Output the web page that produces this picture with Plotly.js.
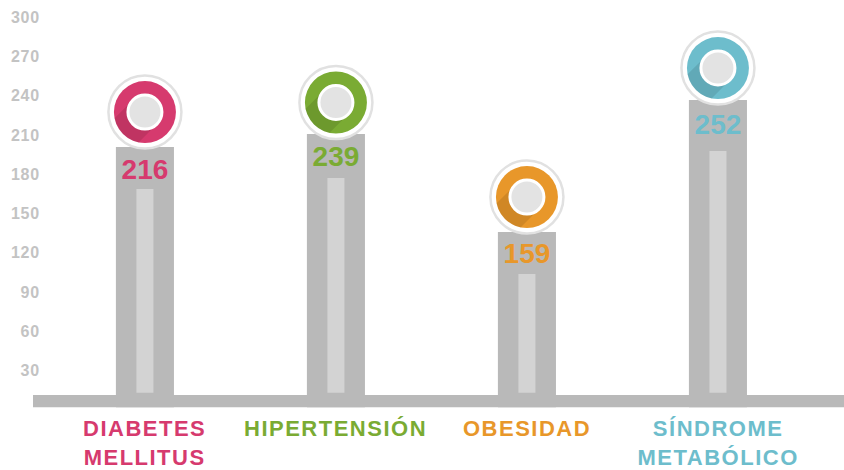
<!DOCTYPE html>
<html>
<head>
<meta charset="utf-8">
<script src="https://cdn.plot.ly/plotly-3.0.1.min.js"></script>
<style>
  html, body { margin: 0; padding: 0; background: #ffffff; }
  #chart { width: 844px; height: 470px; }
  .ytick text { letter-spacing: 0.8px; }
  .annotation text { letter-spacing: 1.5px; }
</style>
</head>
<body>
<div id="chart"></div>
<script>
// ---- data ----
const categories = ['DIABETES<br>MELLITUS', 'HIPERTENSIÓN', 'OBESIDAD', 'SÍNDROME<br>METABÓLICO'];
const values = [216, 239, 159, 252];              // printed numbers
const barLevels = [200.8, 210.7, 135.9, 236.7];   // top of grey columns (axis units)
const innerLevels = [168.7, 177.1, 103.8, 197.8]; // top of light inner strips
const circleLevels = [227.5, 234.8, 162.6, 261.1];// centre of the ring badges
const labelLevels = [182.1, 192.0, 117.6, 216.1]; // centre of the printed numbers
const yTicks = [30, 60, 90, 120, 150, 180, 210, 240, 270, 300];

const colors = ['#d63a6e', '#7aab33', '#e8972a', '#6dbdcc'];
const idx = categories.map((c, i) => i);

const FONT = 'Liberation Sans, Arial, Helvetica, sans-serif';
const innerBase = 13.2;
const baseBand = [2.1, 11.45];

const traces = [
  {
    type: 'bar', x: idx, y: barLevels.map(v => v - baseBand[0]), base: baseBand[0], width: 0.304,
    marker: { color: '#b9b9b9', line: { width: 0 } },
    hoverinfo: 'skip', showlegend: false
  },
  {
    type: 'bar', x: idx, y: innerLevels.map(v => v - innerBase), base: innerBase, width: 0.089,
    marker: { color: '#d3d3d3', line: { width: 0 } },
    hoverinfo: 'skip', showlegend: false
  },
  {
    type: 'scatter', mode: 'text', x: idx, y: labelLevels,
    text: values.map(String), textposition: 'middle center',
    textfont: { family: FONT, size: 28, weight: 'bold', color: colors },
    hoverinfo: 'skip', showlegend: false, cliponaxis: false
  }
];

// ring badges as pixel-sized shapes anchored at data coordinates
const shapes = [
  {
    type: 'rect', xref: 'paper', x0: 0, x1: 1, yref: 'y', y0: baseBand[0], y1: baseBand[1],
    fillcolor: '#b9b9b9', line: { width: 0 }, layer: 'below'
  }
];

function shadowPath(R, r) {
  const s = Math.SQRT1_2;
  const d = [-s, -s];
  const t = Math.sqrt(R * R - r * r);
  const p1 = [r * s, -r * s], p2 = [-r * s, r * s];
  const q1 = [p1[0] + t * d[0], p1[1] + t * d[1]];
  const q2 = [p2[0] + t * d[0], p2[1] + t * d[1]];
  let a1 = Math.atan2(q1[1], q1[0]);
  let a2 = Math.atan2(q2[1], q2[0]);
  if (a2 > a1) a2 -= 2 * Math.PI;
  let path = `M${p1[0].toFixed(2)},${p1[1].toFixed(2)} L${q1[0].toFixed(2)},${q1[1].toFixed(2)}`;
  const n = 24;
  for (let k = 1; k <= n; k++) {
    const a = a1 + (a2 - a1) * k / n;
    path += ` L${(R * Math.cos(a)).toFixed(2)},${(R * Math.sin(a)).toFixed(2)}`;
  }
  path += ` L${p2[0].toFixed(2)},${p2[1].toFixed(2)} L0,0 Z`;
  return path;
}

idx.forEach(i => {
  const common = { xref: 'x', yref: 'y', xsizemode: 'pixel', ysizemode: 'pixel', xanchor: i, yanchor: circleLevels[i], layer: 'above' };
  shapes.push(Object.assign({}, common, {
    type: 'circle', x0: -36.5, x1: 36.5, y0: -36.5, y1: 36.5,
    fillcolor: '#ffffff', line: { color: '#e1e1e1', width: 2.5 }
  }));
  shapes.push(Object.assign({}, common, {
    type: 'circle', x0: -31, x1: 31, y0: -31, y1: 31,
    fillcolor: colors[i], line: { width: 0 }
  }));
  shapes.push(Object.assign({}, common, {
    type: 'path', path: shadowPath(31, 17),
    fillcolor: 'rgba(0,0,0,0.10)', line: { width: 0 }
  }));
  shapes.push(Object.assign({}, common, {
    type: 'circle', x0: -17, x1: 17, y0: -17, y1: 17,
    fillcolor: '#e3e3e3', line: { color: '#ffffff', width: 3 }
  }));
});

const annotations = idx.map(i => ({
  x: i, xref: 'x', y: 0, yref: 'paper', yanchor: 'top', xanchor: 'center',
  yshift: -4, showarrow: false, align: 'center',
  text: categories[i],
  font: { family: FONT, size: 22, weight: 'bold', color: colors[i] }
}));

const layout = {
  width: 844, height: 470,
  margin: { l: 33, r: 0, t: 4, b: 60, pad: 0 },
  paper_bgcolor: '#ffffff', plot_bgcolor: '#ffffff',
  barmode: 'overlay',
  showlegend: false,
  xaxis: {
    type: 'linear', range: [-0.586, 3.66],
    showgrid: false, zeroline: false, showline: false, showticklabels: false, ticks: '',
    fixedrange: true
  },
  yaxis: {
    range: [0, 310], tickmode: 'array', tickvals: yTicks, ticktext: yTicks.map(String),
    showgrid: false, zeroline: false, showline: false, ticks: '',
    ticklabelstandoff: -8,
    tickfont: { family: FONT, size: 16, weight: 'bold', color: '#c3c3c3' },
    fixedrange: true
  },
  shapes: shapes,
  annotations: annotations
};

Plotly.newPlot('chart', traces, layout, { displayModeBar: false, staticPlot: true });
</script>
</body>
</html>
